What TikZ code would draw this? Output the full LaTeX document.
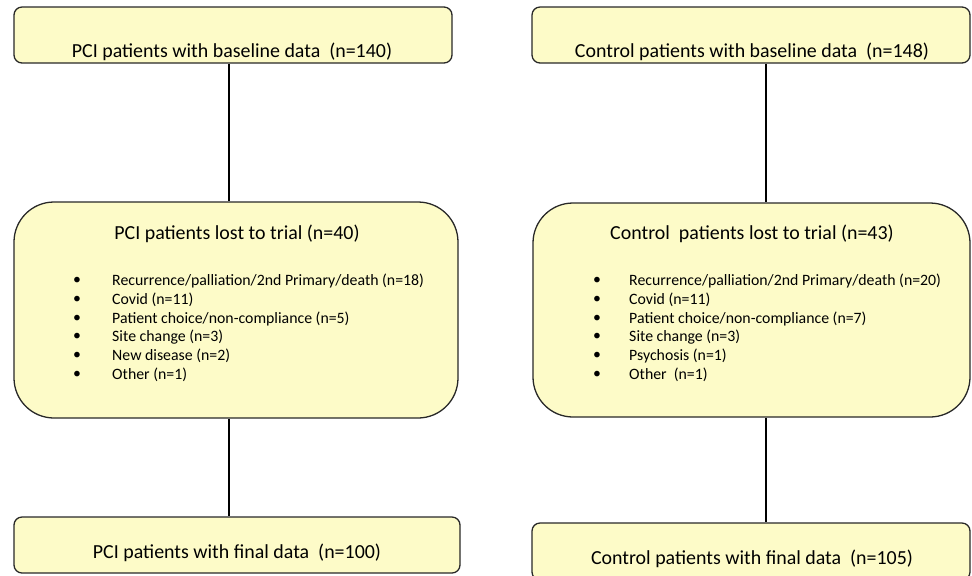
\documentclass[tikz,border=0pt]{standalone}
\usepackage{fontspec}
\setmainfont{Carlito}
\definecolor{boxfill}{RGB}{253,251,200}
\definecolor{boxline}{RGB}{40,40,40}
\tikzset{
    box/.style={draw=boxline, line width=1.1pt, fill=boxfill, rounded corners=0.24cm, inner sep=0pt},
    bigbox/.style={box, rounded corners=1.2cm},
    title/.style={font=\fontsize{17}{20}\selectfont, inner sep=0pt},
    item/.style={font=\fontsize{13.5}{16}\selectfont, anchor=west, inner sep=0pt},
    bullet/.style={font=\fontsize{13.5}{16}\selectfont, inner sep=0pt},
    link/.style={line width=1.4pt, black}
}
\begin{document}
\begin{tikzpicture}[x=0.03cm, y=-0.03cm]
        \useasboundingbox (0, 0) rectangle (972, 575);

        % PCI arm
        \node[box, minimum width=438*0.03cm, minimum height=56*0.03cm] (pcitop) at (233, 35) {};
        \node[title] (pcitoptxt) at (232, 52) {PCI patients with baseline data~~(n=140)};

        \node[bigbox, minimum width=444*0.03cm, minimum height=216*0.03cm] (pcilost) at (236, 310) {};
        \node[title] (pcilosttxt) at (237, 234) {PCI patients lost to trial (n=40)};
        \foreach \txt [count=\i] in {Recurrence/palliation/2nd Primary/death (n=18),
                Covid (n=11), Patient choice/non-compliance (n=5), Site change (n=3),
                New disease (n=2), Other (n=1)} {
            \node[bullet] (pcidot\i) at (77, 262.25 + 18.75*\i) {•};
            \node[item] (pciitem\i) at (112, 262.25 + 18.75*\i) {\txt};
        }

        \node[box, minimum width=446*0.03cm, minimum height=56*0.03cm] (pcifinal) at (237, 545) {};
        \node[title] (pcifinaltxt) at (237, 553) {PCI patients with final data~~(n=100)};

        \coordinate (pcispine) at (229, 0);
        \draw[link] (pcitop.south -| pcispine) -- (pcilost.north -| pcispine);
        \draw[link] (pcilost.south -| pcispine) -- (pcifinal.north -| pcispine);

        % Control arm
        \node[box, minimum width=438*0.03cm, minimum height=56*0.03cm] (ctltop) at (751, 35) {};
        \node[title] (ctltoptxt) at (752, 52) {Control patients with baseline data~~(n=148)};

        \node[bigbox, minimum width=437*0.03cm, minimum height=214*0.03cm] (ctllost) at (751.5, 310) {};
        \node[title] (ctllosttxt) at (752, 234) {Control~~patients lost to trial (n=43)};
        \foreach \txt [count=\i] in {Recurrence/palliation/2nd Primary/death (n=20),
                Covid (n=11), Patient choice/non-compliance (n=7), Site change (n=3),
                Psychosis (n=1), Other~~(n=1)} {
            \node[bullet] (ctldot\i) at (597, 262.25 + 18.75*\i) {•};
            \node[item] (ctlitem\i) at (629, 262.25 + 18.75*\i) {\txt};
        }

        \node[box, minimum width=438*0.03cm, minimum height=57*0.03cm] (ctlfinal) at (751, 551.5) {};
        \node[title] (ctlfinaltxt) at (752, 559) {Control patients with final data~~(n=105)};

        \coordinate (ctlspine) at (766, 0);
        \draw[link] (ctltop.south -| ctlspine) -- (ctllost.north -| ctlspine);
        \draw[link] (ctllost.south -| ctlspine) -- (ctlfinal.north -| ctlspine);
\end{tikzpicture}
\end{document}
